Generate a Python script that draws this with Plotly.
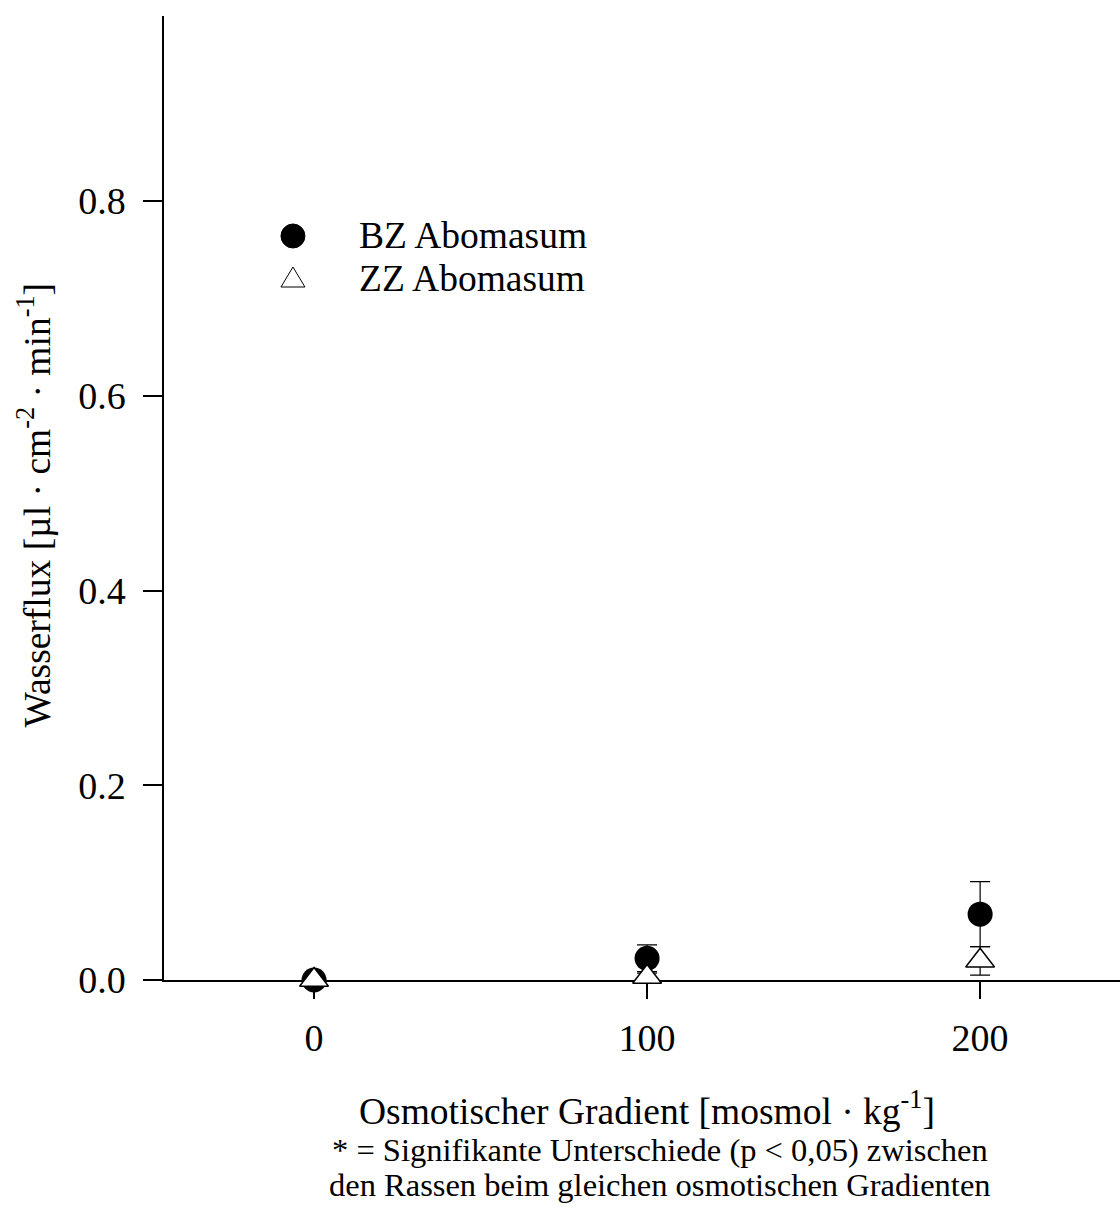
import plotly.graph_objects as go

# Osmotic gradient levels [mosmol/kg]
gradient = [0, 100, 200]

# Water flux means and error (SEM) per breed
bz_flux = [0.0, 0.0223, 0.0676]
bz_err = [0.0, 0.0137, 0.0334]
zz_flux = [0.0, 0.003, 0.0197]
zz_err = [0.0, 0.004, 0.0146]

series_names = ["BZ Abomasum", "ZZ Abomasum"]
y_ticks = [0.0, 0.2, 0.4, 0.6, 0.8]
x_ticks = [0, 100, 200]

FONT = "Liberation Serif, Times New Roman, serif"

fig = go.Figure()

fig.add_trace(go.Scatter(
    x=gradient, y=bz_flux, mode="markers", name=series_names[0],
    marker=dict(symbol="circle", size=25, color="black"),
    error_y=dict(type="data", array=bz_err, visible=True,
                 color="black", thickness=1.2, width=10),
    cliponaxis=False, showlegend=False,
))
fig.add_trace(go.Scatter(
    x=gradient, y=zz_flux, mode="markers", name=series_names[1],
    marker=dict(symbol="triangle-up", size=25, color="white",
                line=dict(color="black", width=1.5)),
    error_y=dict(type="data", array=zz_err, visible=True,
                 color="black", thickness=1.2, width=10),
    cliponaxis=False, showlegend=False,
))

fig.update_layout(
    width=1120, height=1208,
    margin=dict(l=164, r=0, t=16, b=228),
    paper_bgcolor="white", plot_bgcolor="white",
    font=dict(family=FONT, size=37, color="black"),
    xaxis=dict(
        range=[-45.05, 242.0], tickvals=x_ticks, ticks="outside",
        ticklen=17, tickwidth=1.5, tickcolor="black",
        showline=True, linecolor="black", linewidth=1.5,
        showgrid=False, zeroline=False, layer="below traces",
        tickfont=dict(family=FONT, size=38), ticklabelstandoff=7,
    ),
    yaxis=dict(
        range=[0, 0.99], tickvals=y_ticks, tickformat=".1f",
        ticks="outside", ticklen=19, tickwidth=1.5, tickcolor="black",
        showline=True, linecolor="black", linewidth=1.5,
        showgrid=False, zeroline=False, layer="below traces",
        tickfont=dict(family=FONT, size=38), ticklabelstandoff=10,
    ),
)

# Axis titles and footnote
fig.add_annotation(
    text="Osmotischer Gradient [mosmol · kg<sup>-1</sup>]",
    xref="paper", yref="paper", x=0.505, y=-0.133,
    xanchor="center", yanchor="middle", showarrow=False,
    font=dict(family=FONT, size=37.5),
)
fig.add_annotation(
    text="* = Signifikante Unterschiede (p < 0,05) zwischen",
    xref="paper", yref="paper", x=0.519, y=-0.1763,
    xanchor="center", yanchor="middle", showarrow=False,
    font=dict(family=FONT, size=32.5),
)
fig.add_annotation(
    text="den Rassen beim gleichen osmotischen Gradienten",
    xref="paper", yref="paper", x=0.519, y=-0.2126,
    xanchor="center", yanchor="middle", showarrow=False,
    font=dict(family=FONT, size=32.5),
)
fig.add_annotation(
    text="Wasserflux [µl · cm<sup>-2</sup> · min<sup>-1</sup>]",
    xref="paper", yref="paper", x=-0.1355, y=0.4927, textangle=-90,
    xanchor="center", yanchor="middle", showarrow=False,
    font=dict(family=FONT, size=37.5),
)

# Legend keys and labels
key_x = 0.1349
key_y = [0.7718, 0.7282]
fig.add_shape(type="circle", xref="paper", yref="paper",
              xsizemode="pixel", ysizemode="pixel",
              xanchor=key_x, yanchor=key_y[0],
              x0=-12, x1=12, y0=-12, y1=12,
              fillcolor="black", line=dict(color="black", width=1))
fig.add_shape(type="path", xref="paper", yref="paper",
              xsizemode="pixel", ysizemode="pixel",
              xanchor=key_x, yanchor=key_y[1],
              path="M -12,-9 L 12,-9 L 0,11 Z",
              fillcolor="white", line=dict(color="black", width=1))
for name, ky in zip(series_names, key_y):
    fig.add_annotation(
        text=name, xref="paper", yref="paper", x=0.2019, y=ky,
        xanchor="left", yanchor="middle", showarrow=False,
        font=dict(family=FONT, size=37.5),
    )

fig.write_html("out.html")
